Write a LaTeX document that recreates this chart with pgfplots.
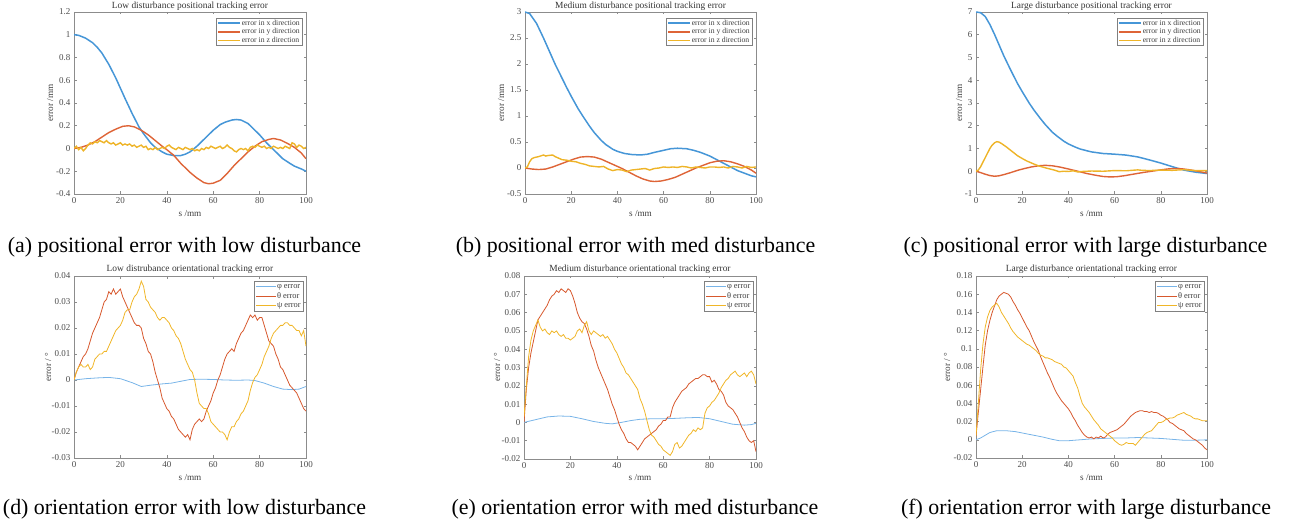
\documentclass[border=0pt]{standalone}
\usepackage{fontspec}
\setmainfont{Liberation Serif}
\usepackage{pgfplots}
\pgfplotsset{compat=1.18}
\definecolor{pblue}{RGB}{70,150,215}
\definecolor{porange}{RGB}{222,100,55}
\definecolor{pyellow}{RGB}{238,180,40}
\definecolor{oblue}{RGB}{120,180,232}
\definecolor{oorange}{RGB}{215,88,45}
\definecolor{oyellow}{RGB}{240,182,40}
\tikzset{
  pb/.style={draw=pblue, line width=1.5pt},
  po/.style={draw=porange, line width=1.4pt},
  py/.style={draw=pyellow, line width=1.4pt},
  ob/.style={draw=oblue, line width=0.8pt},
  oo/.style={draw=oorange, line width=0.8pt},
  oy/.style={draw=oyellow, line width=0.8pt},
}
\pgfplotsset{
  base/.style={
    scale only axis, width=232pt, height=182pt,
    xmin=0, xmax=100, xtick={0,20,40,60,80,100},
    axis line style={draw=black!45, line width=0.5pt},
    tick style={draw=black!45, line width=0.5pt},
    major tick length=2.5pt, tick align=inside,
    ticklabel style={font=\fontsize{9}{10}\selectfont, text=black!70},
    /pgf/number format/assume math mode=true,
    scaled ticks=false,
    yticklabel style={/pgf/number format/fixed, /pgf/number format/precision=2},
    legend cell align=left,
    clip=true,
  },
  posax/.style={base,
    legend style={at={(1,1)}, anchor=north east, xshift=-4pt, yshift=-6pt,
      draw=black!50, fill=white, font=\fontsize{7.7}{8}\selectfont,
      inner xsep=1.5pt, inner ysep=1.5pt,
      nodes={inner xsep=0.6pt, inner ysep=0pt, text height=5.5pt, text depth=1.5pt, text=black!75, fill=none},
      row sep=1.7pt},
    legend image code/.code={\draw[##1] (0pt,0pt) -- (22pt,0pt);},
  },
  oriax/.style={base,
    legend style={at={(1,1)}, anchor=north east, xshift=-3pt, yshift=-5pt,
      draw=black!50, fill=white, font=\fontsize{8.4}{9}\selectfont,
      inner xsep=1.5pt, inner ysep=1.5pt,
      nodes={inner xsep=0.6pt, inner ysep=0pt, text height=6pt, text depth=1.8pt, text=black!75, fill=none},
      row sep=1.7pt},
    legend image code/.code={\draw[##1] (0pt,0pt) -- (20pt,0pt);},
  },
}
\newcommand{\ttl}{\fontsize{9.4}{10}\selectfont\color{black!80}}
\newcommand{\lbl}{\fontsize{9.2}{10}\selectfont\color{black!75}}
\newcommand{\capt}{\fontsize{21.9}{24}\selectfont}
\begin{document}
\begin{tikzpicture}
\useasboundingbox (0pt,0pt) rectangle (1295pt,527pt);
% ---------------- (a)
\begin{axis}[posax, at={(74pt,333pt)}, anchor=south west, ymin=-0.4, ymax=1.2,
  ytick={-0.4,-0.2,0,0.2,0.4,0.6,0.8,1,1.2}]
\addplot[pb] coordinates {(0,1.0) (2,0.995) (5,0.97) (8,0.93) (10,0.89) (12,0.84) (15,0.74) (18,0.62) (20,0.53) (22,0.44) (25,0.31) (28,0.19) (30,0.13) (33,0.05) (35,0.01) (38,-0.03) (40,-0.05) (43,-0.062) (46,-0.062) (48,-0.05) (50,-0.03) (53,0.02) (55,0.06) (58,0.12) (60,0.16) (63,0.21) (65,0.23) (68,0.25) (70,0.255) (72,0.25) (75,0.22) (78,0.16) (80,0.12) (83,0.05) (85,0.01) (88,-0.05) (90,-0.09) (93,-0.13) (95,-0.155) (98,-0.18) (100,-0.2)};
\addlegendentry{error in x direction}
\addplot[po] coordinates {(0,0.0) (3,0.01) (6,0.03) (9,0.06) (12,0.1) (15,0.14) (18,0.17) (21,0.195) (23.5,0.2) (26,0.19) (29,0.16) (32,0.12) (35,0.07) (38,0.02) (40,-0.01) (43,-0.06) (46,-0.13) (50,-0.21) (53,-0.26) (56,-0.3) (58,-0.31) (60,-0.305) (63,-0.28) (66,-0.22) (69,-0.15) (72,-0.09) (75,-0.03) (78,0.02) (81,0.06) (84,0.08) (86,0.088) (89,0.075) (92,0.045) (95,0.01) (98,-0.04) (100,-0.09)};
\addlegendentry{error in y direction}
\addplot[py] coordinates {(0,0.0) (1,0.02) (2,-0.01) (3,0.01) (4,-0.02) (5,0.0) (6,0.03) (7,0.05) (8,0.04) (9,0.06) (10,0.05) (11,0.07) (12,0.06) (13,0.05) (14,0.07) (15,0.05) (16,0.04) (17,0.05) (18,0.03) (19,0.04) (20,0.05) (21,0.03) (22,0.04) (23,0.03) (24,0.04) (25,0.02) (26,0.03) (27,0.01) (28,0.02) (29,0.03) (30,0.01) (31,0.02) (32,-0.01) (33,0.0) (34,-0.01) (35,0.01) (36,-0.01) (37,0.0) (38,0.01) (39,0.0) (40,0.02) (41,0.03) (42,0.01) (43,0.0) (44,-0.01) (45,0.01) (46,0.0) (47,-0.01) (48,0.01) (49,0.0) (50,-0.01) (51,0.0) (52,-0.02) (53,-0.01) (54,-0.02) (55,0.0) (56,-0.01) (57,0.01) (58,0.0) (59,0.02) (60,0.01) (61,0.0) (62,0.01) (63,0.02) (64,0.0) (65,0.01) (66,0.03) (67,0.01) (68,0.0) (69,-0.02) (70,-0.03) (71,-0.01) (72,0.0) (73,-0.01) (74,0.0) (75,-0.02) (76,0.01) (77,0.02) (78,0.01) (79,0.03) (80,0.02) (81,0.01) (82,0.02) (83,0.0) (84,0.01) (85,0.0) (86,0.02) (87,0.01) (88,0.0) (89,0.01) (90,0.0) (91,0.02) (92,0.01) (93,0.0) (94,0.05) (95,0.04) (96,0.01) (97,0.03) (98,0.02) (99,0.0) (100,0.01)};
\addlegendentry{error in z direction}
\end{axis}
% ---------------- (b)
\begin{axis}[posax, at={(525pt,333pt)}, anchor=south west, width=231pt, ymin=-0.5, ymax=3,
  ytick={-0.5,0,0.5,1,1.5,2,2.5,3}]
\addplot[pb] coordinates {(0,3.0) (2,2.97) (5,2.78) (8,2.5) (10,2.3) (13,2.0) (15,1.82) (18,1.55) (20,1.38) (23,1.14) (25,1.0) (28,0.8) (30,0.68) (33,0.53) (35,0.45) (38,0.36) (40,0.32) (43,0.28) (46,0.26) (50,0.25) (53,0.265) (56,0.3) (60,0.34) (63,0.37) (66,0.38) (70,0.37) (73,0.34) (76,0.3) (80,0.23) (83,0.16) (86,0.09) (89,0.02) (92,-0.05) (95,-0.1) (98,-0.15) (100,-0.17)};
\addlegendentry{error in x direction}
\addplot[po] coordinates {(0,0.0) (3,-0.02) (6,-0.03) (9,-0.02) (12,0.02) (15,0.07) (18,0.12) (21,0.17) (24,0.21) (27,0.22) (30,0.21) (33,0.17) (36,0.11) (39,0.05) (42,-0.01) (45,-0.08) (48,-0.15) (51,-0.21) (54,-0.25) (56,-0.26) (59,-0.25) (62,-0.22) (65,-0.18) (68,-0.12) (71,-0.06) (74,0.0) (77,0.05) (80,0.1) (83,0.13) (86,0.14) (89,0.12) (92,0.08) (95,0.03) (98,-0.04) (100,-0.1)};
\addlegendentry{error in y direction}
\addplot[py] coordinates {(0,0.0) (1,0.02) (2,0.12) (3,0.18) (4,0.2) (6,0.22) (8,0.25) (9,0.23) (10,0.24) (12,0.25) (13,0.22) (14,0.2) (16,0.16) (18,0.15) (20,0.13) (22,0.12) (24,0.09) (26,0.07) (28,0.04) (30,0.03) (32,0.02) (34,0.03) (36,-0.02) (38,-0.05) (40,-0.03) (42,-0.04) (44,-0.07) (46,-0.04) (48,-0.03) (50,-0.02) (52,-0.01) (54,-0.04) (56,-0.01) (58,0.0) (60,0.02) (62,0.01) (64,0.02) (66,0.01) (68,0.03) (70,0.02) (72,0.0) (74,0.02) (76,0.01) (78,0.0) (80,0.02) (82,0.02) (84,0.01) (86,0.02) (88,0.0) (90,0.03) (92,0.02) (94,0.0) (96,0.03) (98,0.01) (100,0.02)};
\addlegendentry{error in z direction}
\end{axis}
% ---------------- (c)
\begin{axis}[posax, at={(976pt,333pt)}, anchor=south west, width=231pt, ymin=-1, ymax=7,
  ytick={-1,0,1,2,3,4,5,6,7}]
\addplot[pb] coordinates {(0,7.0) (2,6.97) (4,6.8) (6,6.45) (8,6.02) (10,5.55) (12,5.08) (15,4.45) (18,3.85) (20,3.5) (23,3.0) (25,2.7) (28,2.3) (30,2.05) (33,1.72) (35,1.55) (38,1.32) (40,1.2) (43,1.06) (45,0.98) (48,0.9) (50,0.85) (55,0.78) (60,0.75) (65,0.71) (70,0.63) (75,0.5) (80,0.36) (85,0.2) (90,0.05) (95,-0.04) (100,-0.1)};
\addlegendentry{error in x direction}
\addplot[po] coordinates {(0,0.0) (2,-0.06) (4,-0.13) (6,-0.19) (8,-0.22) (10,-0.2) (12,-0.15) (15,-0.06) (18,0.04) (21,0.12) (24,0.19) (27,0.24) (30,0.26) (33,0.24) (36,0.19) (40,0.1) (44,0.0) (48,-0.1) (52,-0.18) (55,-0.23) (58,-0.25) (61,-0.24) (64,-0.2) (68,-0.13) (72,-0.06) (76,0.0) (80,0.06) (83,0.1) (86,0.12) (89,0.11) (92,0.07) (96,0.0) (100,-0.08)};
\addlegendentry{error in y direction}
\addplot[py] coordinates {(0,0.0) (1,0.05) (2,0.2) (3,0.4) (4,0.6) (5,0.8) (6,1.0) (7,1.15) (8,1.25) (9,1.3) (10,1.28) (11,1.22) (12,1.15) (13,1.08) (15,0.92) (17,0.76) (18,0.68) (20,0.56) (22,0.45) (25,0.32) (27,0.24) (30,0.15) (32,0.1) (34,0.05) (36,-0.02) (38,0.0) (40,-0.01) (42,0.02) (44,-0.03) (46,-0.01) (48,0.0) (50,0.01) (55,0.0) (60,0.03) (65,0.02) (70,0.06) (72,0.04) (75,0.03) (80,0.05) (85,0.04) (90,0.07) (95,0.03) (100,0.03)};
\addlegendentry{error in z direction}
\end{axis}
% ---------------- (d)
\begin{axis}[oriax, at={(74pt,69pt)}, anchor=south west, ymin=-0.03, ymax=0.04,
  ytick={-0.03,-0.02,-0.01,0,0.01,0.02,0.03,0.04}]
\addplot[ob] coordinates {(0,0) (5,0.0005) (10,0.0008) (15,0.001) (20,0.0005) (25,-0.001) (29,-0.0025) (33,-0.002) (38,-0.0015) (42,-0.0012) (46,-0.0005) (50,0.0002) (55,0.0003) (60,0.0002) (65,0.0) (70,-0.0001) (75,0.0) (78,-0.0002) (82,-0.0012) (86,-0.0025) (90,-0.0035) (94,-0.0037) (97,-0.0035) (100,-0.0025)};
\addlegendentry{φ error}
\addplot[oo] coordinates {(0,0.000) (1,0.003) (2,0.005) (3,0.007) (4,0.009) (5,0.010) (6,0.012) (7,0.015) (8,0.018) (9,0.020) (10,0.022) (11,0.024) (12,0.027) (13,0.030) (14,0.031) (15,0.034) (16,0.033) (17,0.035) (18,0.033) (19,0.034) (20,0.035) (21,0.032) (22,0.030) (23,0.028) (24,0.026) (25,0.024) (26,0.022) (27,0.021) (28,0.021) (29,0.020) (30,0.016) (31,0.014) (32,0.011) (33,0.010) (34,0.007) (35,0.003) (36,0.000) (37,-0.003) (38,-0.007) (39,-0.009) (40,-0.011) (41,-0.012) (42,-0.014) (43,-0.015) (44,-0.017) (45,-0.019) (46,-0.020) (47,-0.021) (48,-0.022) (49,-0.021) (50,-0.023) (51,-0.019) (52,-0.017) (53,-0.016) (54,-0.015) (55,-0.016) (56,-0.015) (57,-0.012) (58,-0.010) (59,-0.008) (60,-0.005) (61,-0.003) (62,0.000) (63,0.002) (64,0.005) (65,0.008) (66,0.010) (67,0.011) (68,0.012) (69,0.011) (70,0.014) (71,0.016) (72,0.018) (73,0.019) (74,0.021) (75,0.023) (76,0.025) (77,0.024) (78,0.025) (79,0.023) (80,0.024) (81,0.024) (82,0.021) (83,0.018) (84,0.015) (85,0.014) (86,0.013) (87,0.010) (88,0.008) (89,0.005) (90,0.004) (91,0.002) (92,0.000) (93,-0.002) (94,-0.003) (95,-0.004) (96,-0.005) (97,-0.007) (98,-0.009) (99,-0.011) (100,-0.012)};
\addlegendentry{θ error}
\addplot[oy] coordinates {(0,0.000) (1,0.003) (2,0.005) (3,0.006) (4,0.005) (5,0.005) (6,0.006) (7,0.004) (8,0.005) (9,0.008) (10,0.009) (11,0.010) (12,0.010) (13,0.011) (14,0.011) (15,0.013) (16,0.015) (17,0.017) (18,0.019) (19,0.020) (20,0.021) (21,0.023) (22,0.026) (23,0.027) (24,0.027) (25,0.030) (26,0.032) (27,0.033) (28,0.035) (29,0.038) (30,0.036) (31,0.031) (32,0.030) (33,0.028) (34,0.027) (35,0.026) (36,0.024) (37,0.023) (38,0.024) (39,0.024) (40,0.023) (41,0.022) (42,0.020) (43,0.019) (44,0.017) (45,0.016) (46,0.014) (47,0.011) (48,0.008) (49,0.006) (50,0.004) (51,0.003) (52,0.000) (53,-0.005) (54,-0.009) (55,-0.010) (56,-0.011) (57,-0.011) (58,-0.013) (59,-0.016) (60,-0.017) (61,-0.018) (62,-0.019) (63,-0.020) (64,-0.020) (65,-0.021) (66,-0.023) (67,-0.020) (68,-0.018) (69,-0.018) (70,-0.016) (71,-0.015) (72,-0.013) (73,-0.012) (74,-0.010) (75,-0.008) (76,-0.004) (77,-0.001) (78,0.001) (79,0.002) (80,0.004) (81,0.006) (82,0.009) (83,0.011) (84,0.013) (85,0.016) (86,0.018) (87,0.019) (88,0.020) (89,0.021) (90,0.021) (91,0.022) (92,0.022) (93,0.021) (94,0.021) (95,0.020) (96,0.019) (97,0.019) (98,0.017) (99,0.019) (100,0.013)};
\addlegendentry{ψ error}
\end{axis}
% ---------------- (e)
\begin{axis}[oriax, at={(524pt,68pt)}, anchor=south west, height=183pt, ymin=-0.02, ymax=0.08,
  ytick={-0.02,-0.01,0,0.01,0.02,0.03,0.04,0.05,0.06,0.07,0.08}]
\addplot[ob] coordinates {(0,0) (5,0.0015) (10,0.003) (15,0.0035) (20,0.0033) (25,0.002) (30,0.0005) (35,-0.0005) (38,-0.0008) (42,0.0) (46,0.001) (50,0.0017) (55,0.002) (60,0.002) (65,0.0022) (70,0.0025) (75,0.0027) (80,0.002) (85,0.0005) (90,-0.001) (95,-0.0015) (98,-0.0012) (100,-0.0005)};
\addlegendentry{φ error}
\addplot[oo] coordinates {(0,0.000) (1,0.018) (2,0.030) (3,0.038) (4,0.044) (5,0.050) (6,0.056) (7,0.058) (8,0.060) (9,0.062) (10,0.064) (11,0.067) (12,0.069) (13,0.070) (14,0.072) (15,0.071) (16,0.073) (17,0.072) (18,0.071) (19,0.073) (20,0.072) (21,0.069) (22,0.065) (23,0.060) (24,0.057) (25,0.055) (26,0.054) (27,0.051) (28,0.047) (29,0.042) (30,0.039) (31,0.034) (32,0.030) (33,0.027) (34,0.024) (35,0.021) (36,0.018) (37,0.014) (38,0.010) (39,0.007) (40,0.003) (41,-0.001) (42,-0.004) (43,-0.006) (44,-0.009) (45,-0.011) (46,-0.011) (47,-0.012) (48,-0.013) (49,-0.015) (50,-0.013) (51,-0.011) (52,-0.009) (53,-0.008) (54,-0.007) (55,-0.006) (56,-0.005) (57,-0.004) (58,-0.002) (59,-0.001) (60,0.001) (61,0.001) (62,0.003) (63,0.003) (64,0.008) (65,0.011) (66,0.013) (67,0.015) (68,0.017) (69,0.018) (70,0.019) (71,0.021) (72,0.022) (73,0.023) (74,0.024) (75,0.024) (76,0.025) (77,0.026) (78,0.026) (79,0.025) (80,0.025) (81,0.022) (82,0.023) (83,0.021) (84,0.018) (85,0.017) (86,0.015) (87,0.011) (88,0.009) (89,0.008) (90,0.007) (91,0.005) (92,0.003) (93,0.000) (94,-0.003) (95,-0.005) (96,-0.008) (97,-0.010) (98,-0.011) (99,-0.010) (100,-0.016)};
\addlegendentry{θ error}
\addplot[oy] coordinates {(0,0.003) (1,0.020) (2,0.036) (3,0.045) (4,0.050) (5,0.053) (6,0.056) (7,0.052) (8,0.050) (9,0.051) (10,0.049) (11,0.048) (12,0.050) (13,0.049) (14,0.050) (15,0.048) (16,0.047) (17,0.048) (18,0.046) (19,0.046) (20,0.045) (21,0.046) (22,0.047) (23,0.050) (24,0.051) (25,0.049) (26,0.053) (27,0.055) (28,0.050) (29,0.048) (30,0.050) (31,0.049) (32,0.048) (33,0.047) (34,0.048) (35,0.046) (36,0.047) (37,0.045) (38,0.043) (39,0.040) (40,0.038) (41,0.035) (42,0.032) (43,0.030) (44,0.027) (45,0.026) (46,0.024) (47,0.022) (48,0.020) (49,0.018) (50,0.013) (51,0.010) (52,0.006) (53,0.001) (54,-0.004) (55,-0.007) (56,-0.008) (57,-0.010) (58,-0.012) (59,-0.013) (60,-0.015) (61,-0.016) (62,-0.017) (63,-0.018) (64,-0.016) (65,-0.012) (66,-0.011) (67,-0.014) (68,-0.013) (69,-0.011) (70,-0.009) (71,-0.007) (72,-0.006) (73,-0.004) (74,-0.005) (75,-0.003) (76,-0.004) (77,-0.003) (78,0.005) (79,0.008) (80,0.009) (81,0.011) (82,0.012) (83,0.014) (84,0.016) (85,0.019) (86,0.021) (87,0.023) (88,0.024) (89,0.026) (90,0.027) (91,0.028) (92,0.026) (93,0.025) (94,0.026) (95,0.027) (96,0.025) (97,0.027) (98,0.028) (99,0.026) (100,0.021)};
\addlegendentry{ψ error}
\end{axis}
% ---------------- (f)
\begin{axis}[oriax, at={(976pt,69pt)}, anchor=south west, width=231pt, ymin=-0.02, ymax=0.18,
  ytick={-0.02,0,0.02,0.04,0.06,0.08,0.1,0.12,0.14,0.16,0.18}]
\addplot[ob] coordinates {(0,0) (2,0.002) (4,0.005) (6,0.008) (9,0.010) (13,0.010) (17,0.009) (21,0.007) (25,0.005) (29,0.003) (33,0.0005) (36,-0.001) (40,-0.001) (45,0.0) (50,0.001) (55,0.0015) (60,0.002) (65,0.002) (70,0.0025) (75,0.002) (80,0.0015) (85,0.0005) (90,-0.0005) (95,-0.0005) (100,0.0)};
\addlegendentry{φ error}
\addplot[oo] coordinates {(0,0.004) (1,0.030) (2,0.055) (3,0.080) (4,0.104) (5,0.120) (6,0.131) (7,0.140) (8,0.147) (9,0.154) (10,0.158) (11,0.160) (12,0.162) (13,0.161) (14,0.160) (15,0.157) (16,0.152) (17,0.148) (18,0.143) (19,0.139) (20,0.134) (21,0.129) (22,0.124) (23,0.120) (24,0.114) (25,0.108) (26,0.103) (27,0.098) (28,0.091) (29,0.085) (30,0.079) (31,0.073) (32,0.068) (33,0.062) (34,0.056) (35,0.051) (36,0.047) (37,0.043) (38,0.040) (39,0.037) (40,0.034) (41,0.030) (42,0.025) (43,0.021) (44,0.016) (45,0.012) (46,0.008) (47,0.005) (48,0.003) (49,0.002) (50,0.003) (51,0.001) (52,0.003) (53,0.002) (54,0.004) (55,0.002) (56,0.003) (57,0.006) (58,0.008) (59,0.009) (60,0.010) (61,0.011) (62,0.013) (63,0.015) (64,0.017) (65,0.020) (66,0.023) (67,0.026) (68,0.028) (69,0.030) (70,0.031) (71,0.032) (72,0.032) (73,0.031) (74,0.031) (75,0.030) (76,0.031) (77,0.030) (78,0.030) (79,0.029) (80,0.027) (81,0.026) (82,0.024) (83,0.022) (84,0.019) (85,0.018) (86,0.016) (87,0.014) (88,0.012) (89,0.011) (90,0.010) (91,0.007) (92,0.005) (93,0.003) (94,0.001) (95,0.000) (96,-0.002) (97,-0.004) (98,-0.006) (99,-0.009) (100,-0.011)};
\addlegendentry{θ error}
\addplot[oy] coordinates {(0,0.004) (1,0.040) (2,0.077) (3,0.105) (4,0.124) (5,0.135) (6,0.142) (7,0.146) (8,0.148) (9,0.150) (10,0.146) (11,0.140) (12,0.136) (13,0.132) (14,0.128) (15,0.123) (16,0.119) (17,0.116) (18,0.113) (19,0.111) (20,0.109) (21,0.107) (22,0.105) (23,0.104) (24,0.102) (25,0.100) (26,0.098) (27,0.095) (28,0.093) (29,0.092) (30,0.090) (31,0.090) (32,0.089) (33,0.088) (34,0.086) (35,0.085) (36,0.084) (37,0.083) (38,0.080) (39,0.079) (40,0.076) (41,0.073) (42,0.070) (43,0.063) (44,0.057) (45,0.048) (46,0.040) (47,0.036) (48,0.033) (49,0.030) (50,0.026) (51,0.022) (52,0.019) (53,0.016) (54,0.012) (55,0.010) (56,0.008) (57,0.006) (58,0.004) (59,0.002) (60,-0.001) (61,-0.003) (62,-0.005) (63,-0.006) (64,-0.005) (65,-0.003) (66,-0.004) (67,-0.004) (68,-0.004) (69,-0.006) (70,-0.003) (71,0.000) (72,0.003) (73,0.006) (74,0.008) (75,0.009) (76,0.010) (77,0.013) (78,0.016) (79,0.019) (80,0.019) (81,0.020) (82,0.022) (83,0.023) (84,0.024) (85,0.024) (86,0.025) (87,0.027) (88,0.028) (89,0.029) (90,0.030) (91,0.028) (92,0.027) (93,0.026) (94,0.024) (95,0.023) (96,0.023) (97,0.022) (98,0.021) (99,0.021) (100,0.021)};
\addlegendentry{ψ error}
\end{axis}
% ---------------- titles
\node[anchor=base] at (190pt,518pt) {\ttl Low disturbance positional tracking error};
\node[anchor=base] at (640.5pt,518pt) {\ttl Medium disturbance positional tracking error};
\node[anchor=base] at (1091.5pt,518pt) {\ttl Large disturbance positional tracking error};
\node[anchor=base] at (190pt,255pt) {\ttl Low distrubance orientational tracking error};
\node[anchor=base] at (640pt,255pt) {\ttl Medium disturbance orientational tracking error};
\node[anchor=base] at (1091.5pt,255pt) {\ttl Large disturbance orientational tracking error};
% ---------------- x labels
\node[anchor=base] at (190pt,310pt) {\lbl s /mm};
\node[anchor=base] at (640.5pt,310pt) {\lbl s /mm};
\node[anchor=base] at (1091.5pt,310pt) {\lbl s /mm};
\node[anchor=base] at (190pt,46pt) {\lbl s /mm};
\node[anchor=base] at (640pt,46pt) {\lbl s /mm};
\node[anchor=base] at (1091.5pt,46pt) {\lbl s /mm};
% ---------------- y labels
\node[anchor=base, rotate=90] at (53pt,424pt) {\lbl error /mm};
\node[anchor=base, rotate=90] at (504pt,424pt) {\lbl error /mm};
\node[anchor=base, rotate=90] at (962pt,424pt) {\lbl error /mm};
\node[anchor=base, rotate=90] at (51pt,160pt) {\lbl error / °};
\node[anchor=base, rotate=90] at (500pt,160pt) {\lbl error / °};
\node[anchor=base, rotate=90] at (950pt,160pt) {\lbl error / °};
% ---------------- captions
\node[anchor=base] at (184.5pt,274pt) {\capt (a) positional error with low disturbance};
\node[anchor=base] at (635.5pt,274pt) {\capt (b) positional error with med disturbance};
\node[anchor=base] at (1085.5pt,274pt) {\capt (c) positional error with large disturbance};
\node[anchor=base] at (184.5pt,12pt) {\capt (d) orientation error with low disturbance};
\node[anchor=base] at (635pt,12pt) {\capt (e) orientation error with med disturbance};
\node[anchor=base] at (1086pt,12pt) {\capt (f) orientation error with large disturbance};
\end{tikzpicture}
\end{document}
